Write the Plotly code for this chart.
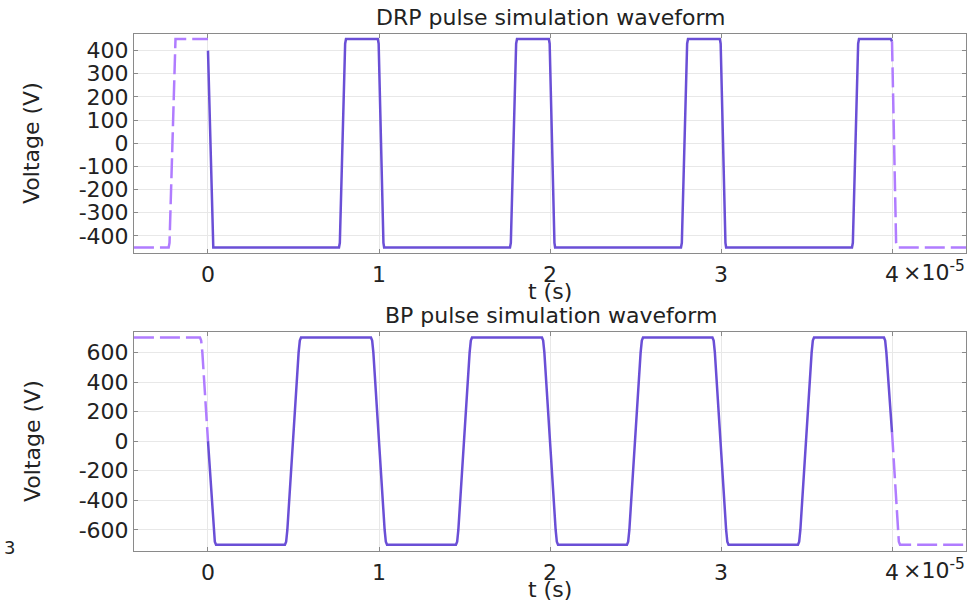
import plotly.graph_objects as go

# Time values are in microseconds, converted to seconds when plotted.
US = 1e-6

# DRP pulse waveform (V) – simulated window 0..40 us
drp_t = [0.00, 0.27, 0.31, 7.66, 7.71, 8.02, 8.07, 9.93, 9.98, 10.26, 10.30,
         17.66, 17.71, 18.02, 18.07, 19.93, 19.98, 20.26, 20.30,
         27.66, 27.71, 28.02, 28.07, 29.93, 29.98, 30.26, 30.30,
         37.66, 37.71, 38.02, 38.07, 39.93, 40.00]
drp_v = [400, -430, -450, -450, -430, 430, 450, 450, 430, -430, -450,
         -450, -430, 430, 450, 450, 430, -430, -450,
         -450, -430, 430, 450, 450, 430, -430, -450,
         -450, -430, 430, 450, 450, 440]

# DRP periodic continuation outside the simulated window
drp_ext_left_t = [-4.33, -2.30, -2.25, -1.95, -1.90, 0.00]
drp_ext_left_v = [-450, -450, -430, 430, 450, 450]
drp_ext_right_t = [40.00, 40.24, 40.29, 44.33]
drp_ext_right_v = [440, -430, -450, -450]

# BP pulse waveform (V) – simulated window 0..40 us
bp_t = [0.00, 0.33, 0.40, 0.47,
        4.50, 4.57, 4.64, 5.30, 5.37, 5.44,
        9.53, 9.60, 9.67, 10.33, 10.40, 10.47,
        14.50, 14.57, 14.64, 15.30, 15.37, 15.44,
        19.53, 19.60, 19.67, 20.33, 20.40, 20.47,
        24.50, 24.57, 24.64, 25.30, 25.37, 25.44,
        29.50, 29.57, 29.64, 30.30, 30.37, 30.44,
        34.50, 34.57, 34.64, 35.30, 35.37, 35.44,
        39.53, 39.60, 39.67, 40.00]
bp_v = [0, -600, -680, -700,
        -700, -680, -600, 600, 680, 700,
        700, 680, 600, -600, -680, -700,
        -700, -680, -600, 600, 680, 700,
        700, 680, 600, -600, -680, -700,
        -700, -680, -600, 600, 680, 700,
        700, 680, 600, -600, -680, -700,
        -700, -680, -600, 600, 680, 700,
        700, 680, 600, 60]

# BP periodic continuation outside the simulated window
bp_ext_left_t = [-4.33, -0.47, -0.40, -0.33, 0.00]
bp_ext_left_v = [700, 700, 680, 600, 0]
bp_ext_right_t = [40.00, 40.33, 40.40, 40.47, 44.33]
bp_ext_right_v = [60, -600, -680, -700, -700]

x_tickvals = [0, 10, 20, 30, 40]
x_ticktext = ["0", "1", "2", "3", "4"]
drp_yticks = [-400, -300, -200, -100, 0, 100, 200, 300, 400]
drp_yticktext = ["-400", "-300", "-200", "-100", "0", "100", "200", "300", "400"]
bp_yticks = [-600, -400, -200, 0, 200, 400, 600]
bp_yticktext = ["-600", "-400", "-200", "0", "200", "400", "600"]

SOLID = "#6a4fd6"
DASHED = "#b07cff"
FONT = "DejaVu Sans"
TXT = "#222222"
W, H = 973, 602


def sec(ts):
    return [t * US for t in ts]


fig = go.Figure()

line_solid = dict(color=SOLID, width=2.5)
line_dash = dict(color=DASHED, width=2.5, dash="20px,6px")

fig.add_trace(go.Scatter(x=sec(drp_ext_left_t), y=drp_ext_left_v, mode="lines",
                         line=line_dash, xaxis="x", yaxis="y"))
fig.add_trace(go.Scatter(x=sec(drp_ext_right_t), y=drp_ext_right_v, mode="lines",
                         line=line_dash, xaxis="x", yaxis="y"))
fig.add_trace(go.Scatter(x=sec(drp_t), y=drp_v, mode="lines",
                         line=line_solid, xaxis="x", yaxis="y"))

fig.add_trace(go.Scatter(x=sec(bp_ext_left_t), y=bp_ext_left_v, mode="lines",
                         line=line_dash, xaxis="x2", yaxis="y2"))
fig.add_trace(go.Scatter(x=sec(bp_ext_right_t), y=bp_ext_right_v, mode="lines",
                         line=line_dash, xaxis="x2", yaxis="y2"))
fig.add_trace(go.Scatter(x=sec(bp_t), y=bp_v, mode="lines",
                         line=line_solid, xaxis="x2", yaxis="y2"))

x_dom = [134 / W, 966 / W]
top_dom = [1 - 253 / H, 1 - 33.5 / H]
bot_dom = [1 - 550.7 / H, 1 - 331.7 / H]

common_axis = dict(
    showline=True, linecolor="#8a8a8a", linewidth=1, mirror="ticks",
    ticks="inside", ticklen=4, tickcolor="#8a8a8a",
    showgrid=True, gridcolor="#e8e8e8", gridwidth=1, zeroline=False,
    tickfont=dict(family=FONT, size=22, color=TXT),
)

xr = [-4.327 * US, 44.327 * US]
fig.update_layout(
    width=W, height=H,
    margin=dict(l=0, r=0, t=0, b=0),
    paper_bgcolor="white", plot_bgcolor="white",
    showlegend=False,
    font=dict(family=FONT, size=22, color=TXT),
    xaxis=dict(domain=x_dom, anchor="y", range=xr, ticklabelstandoff=2,
               tickvals=sec(x_tickvals), ticktext=x_ticktext, **common_axis),
    yaxis=dict(domain=top_dom, anchor="x", range=[-474, 474],
               tickvals=drp_yticks, ticktext=drp_yticktext, **common_axis),
    xaxis2=dict(domain=x_dom, anchor="y2", range=xr, ticklabelstandoff=2,
                tickvals=sec(x_tickvals), ticktext=x_ticktext, **common_axis),
    yaxis2=dict(domain=bot_dom, anchor="x2", range=[-740, 740],
                tickvals=bp_yticks, ticktext=bp_yticktext, **common_axis),
)


def px(x):
    return x / W


def py(y):
    return 1 - y / H


ann_font = dict(family=FONT, size=22, color=TXT)
annotations = [
    dict(text="DRP pulse simulation waveform", x=px(551), y=py(17)),
    dict(text="BP pulse simulation waveform", x=px(551), y=py(315.5)),
    dict(text="t (s)", x=px(550), y=py(291)),
    dict(text="t (s)", x=px(550), y=py(589)),
    dict(text="Voltage (V)", x=px(32), y=py(143), textangle=-90),
    dict(text="Voltage (V)", x=px(32), y=py(441), textangle=-90),
]
for a in annotations:
    a.update(xref="paper", yref="paper", showarrow=False,
             xanchor="center", yanchor="middle", font=ann_font)
    fig.add_annotation(**a)

# exponent suffix attached to the last time tick
for yc in (271, 569):
    fig.add_annotation(text="×10<sup>-5</sup>", x=px(901), y=py(yc),
                       xref="paper", yref="paper", showarrow=False,
                       xanchor="left", yanchor="middle", font=ann_font)

fig.add_annotation(text="3", x=px(2), y=py(547), xref="paper", yref="paper",
                   showarrow=False, xanchor="left", yanchor="middle",
                   font=dict(family=FONT, size=18, color=TXT))

fig.write_html("out.html")
